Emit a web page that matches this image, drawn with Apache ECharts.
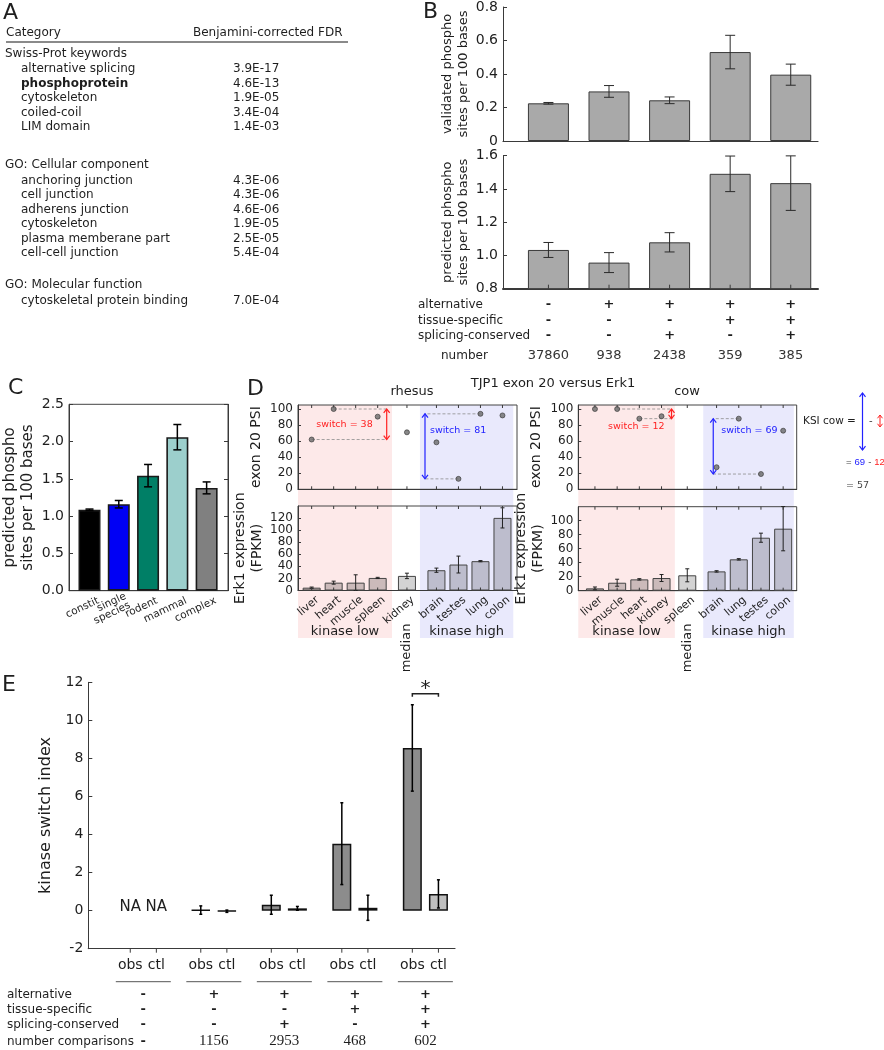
<!DOCTYPE html>
<html>
<head>
<meta charset="utf-8">
<script src="https://cdn.jsdelivr.net/npm/echarts@6/dist/echarts.min.js"></script>
<style>
html,body{margin:0;padding:0;background:#ffffff;}
#chart{width:884px;height:1050px;}
</style>
</head>
<body>
<div id="chart"></div>
<script>
// ===== Panel A : enrichment table =====
const aHeader = ['Category', 'Benjamini-corrected FDR'];
const aSections = ['Swiss-Prot keywords', 'GO: Cellular component', 'GO: Molecular function'];
const aTerms = [
  ['alternative splicing', 'phosphoprotein', 'cytoskeleton', 'coiled-coil', 'LIM domain'],
  ['anchoring junction', 'cell junction', 'adherens junction', 'cytoskeleton', 'plasma memberane part', 'cell-cell junction'],
  ['cytoskeletal protein binding']
];
const aFDR = [
  ['3.9E-17', '4.6E-13', '1.9E-05', '3.4E-04', '1.4E-03'],
  ['4.3E-06', '4.3E-06', '4.6E-06', '1.9E-05', '2.5E-05', '5.4E-04'],
  ['7.0E-04']
];
const aBoldTerm = 'phosphoprotein';

// ===== Panel B =====
const bRowLabels = ['alternative', 'tissue-specific', 'splicing-conserved'];
const bFlags = [
  ['-', '+', '+', '+', '+'],
  ['-', '-', '-', '+', '+'],
  ['-', '-', '+', '-', '+']
];
const bNumberLabel = 'number';
const bNumbers = ['37860', '938', '2438', '359', '385'];
const bValidated = [0.225, 0.296, 0.243, 0.531, 0.396];
const bValidatedErr = [0.005, 0.035, 0.020, 0.100, 0.063];
const bPredicted = [1.033, 0.957, 1.079, 1.491, 1.435];
const bPredictedErr = [0.045, 0.060, 0.058, 0.107, 0.164];

// ===== Panel C =====
const cCategories = ['constit', 'single\nspecies', 'rodent', 'mammal', 'complex'];
const cValues = [1.085, 1.16, 1.543, 2.059, 1.379];
const cErr = [0.01, 0.05, 0.15, 0.17, 0.08];

// ===== Panel D =====
const dTitle = 'TJP1 exon 20 versus Erk1';
const rhesusTissues = ['liver', 'heart', 'muscle', 'spleen', 'kidney', 'brain', 'testes', 'lung', 'colon'];
const rhesusPSI = [62, 100, null, 90.5, 71, 58.5, 13, 94, 92];
const rhesusErk = [4.7, 13, 13, 20.8, 24.2, 33.6, 43, 48.6, 120.3];
const rhesusErkErr = [1, 2.5, 13, 1, 4.5, 3.5, 14, 1, 16.7];
const cowTissues = ['liver', 'muscle', 'heart', 'kidney', 'spleen', 'brain', 'lung', 'testes', 'colon'];
const cowPSI = [100, 100, 88, 91, null, 27.5, 88, 19, 73];
const cowErk = [3.3, 11.4, 16.2, 18.1, 22, 27.6, 44.8, 75.7, 88.6];
const cowErkErr = [2, 5, 1, 5, 9.3, 1, 1, 6.5, 31.6];
const lowIdx = [0, 1, 2, 3];
const medianIdx = 4;
const highIdx = [5, 6, 7, 8];

// ===== Panel E =====
const eRowLabels = ['alternative', 'tissue-specific', 'splicing-conserved'];
const eFlags = [
  ['-', '+', '+', '+', '+'],
  ['-', '-', '-', '+', '+'],
  ['-', '-', '+', '-', '+']
];
const eNumberLabel = 'number comparisons';
const eNumbers = ['-', '1156', '2953', '468', '602'];
const eObs = [null, 0.03, 0.31, 3.52, 8.55];
const eObsErr = [null, 0.22, 0.50, 2.15, 2.27];
const eCtl = [null, -0.03, 0.12, 0.15, 0.88];
const eCtlErr = [null, 0.06, 0.10, 0.66, 0.74];

// ===================== drawing =====================
const chart = echarts.init(document.getElementById('chart'), null, {renderer: 'canvas'});
const FONT = 'DejaVu Sans';
const INK = '#1e1e1e';
const AX = '#3a3a3a';

function tissueX(i, g1, g2) { return i + (i >= 4 ? g1 : 0) + (i >= 5 ? g2 : 0); }
const rhX = rhesusTissues.map((t, i) => tissueX(i, 0.33, 0.34));
const cowX = cowTissues.map((t, i) => tissueX(i, 0.16, 0.32));
const eOff = 0.185;

function xAx(g, min, max, lw) {
  return {type: 'value', gridIndex: g, min: min, max: max,
    axisLine: {show: true, onZero: false, lineStyle: {color: AX, width: lw || 1}},
    axisTick: {show: false}, axisLabel: {show: false}, splitLine: {show: false}};
}
function yAx(g, min, max, interval, o) {
  o = o || {};
  const lab = {show: o.label !== false, fontSize: o.fs || 13, color: INK, fontFamily: FONT, margin: o.margin || 5};
  if (o.fmt) lab.formatter = o.fmt;
  if (o.hideMax) lab.showMaxLabel = false;
  return {type: 'value', gridIndex: g, min: min, max: max, interval: interval, position: o.position || 'left',
    axisLine: {show: true, onZero: false, lineStyle: {color: AX, width: 1}},
    axisTick: {show: true, inside: true, length: o.tick || 4, lineStyle: {color: AX}},
    axisLabel: lab, splitLine: {show: false},
    name: o.name || '', nameLocation: 'middle', nameGap: o.gap || 30, nameRotate: 90,
    nameTextStyle: {fontSize: o.nfs || 13, color: INK, fontFamily: FONT, lineHeight: o.lh || 16}};
}
function errSeries(xi, yi, data, cap, color, lw) {
  return {type: 'custom', xAxisIndex: xi, yAxisIndex: yi, z: 5, silent: true, clip: false,
    data: data, encode: {x: 0, y: [1, 2]},
    renderItem: function (params, api) {
      const x = api.value(0), lo = api.value(1), hi = api.value(2);
      const a = api.coord([x, lo]), b = api.coord([x, hi]);
      const st = {stroke: color, lineWidth: lw};
      return {type: 'group', children: [
        {type: 'line', shape: {x1: a[0], y1: a[1], x2: b[0], y2: b[1]}, style: st},
        {type: 'line', shape: {x1: a[0] - cap, y1: a[1], x2: a[0] + cap, y2: a[1]}, style: st},
        {type: 'line', shape: {x1: b[0] - cap, y1: b[1], x2: b[0] + cap, y2: b[1]}, style: st}
      ]};
    }};
}
function tickSeries(xi, yi, xs, yB, yT, bLen, tLen) {
  return {type: 'custom', xAxisIndex: xi, yAxisIndex: yi, z: 6, silent: true, clip: false,
    data: xs.map(x => [x, yB]), encode: {x: 0, y: 1},
    renderItem: function (params, api) {
      const x = api.value(0);
      const a = api.coord([x, yB]);
      const ch = [{type: 'line', shape: {x1: a[0], y1: a[1], x2: a[0], y2: a[1] - bLen}, style: {stroke: AX, lineWidth: 1}}];
      if (tLen) {
        const b = api.coord([x, yT]);
        ch.push({type: 'line', shape: {x1: b[0], y1: b[1], x2: b[0], y2: b[1] + tLen}, style: {stroke: AX, lineWidth: 1}});
      }
      return {type: 'group', children: ch};
    }};
}
const errData = (xs, vs, es) => vs.map((v, i) => v == null ? null : [xs[i], v - es[i], v + es[i]]).filter(d => d);
const idx5 = [0, 1, 2, 3, 4];

const cFill = ['#000000', '#0000f5', '#007f66', '#9ccfcc', '#808080'];
const dLowC = '#cbbaba', dMedC = '#d3d3d3', dHighC = '#bdbdcd';
const dBarColor = i => i === medianIdx ? dMedC : (lowIdx.indexOf(i) >= 0 ? dLowC : dHighC);

const eBarData = [];
const eErr = [];
const eTickX = [];
idx5.forEach(g => {
  eTickX.push(g - eOff, g + eOff);
  if (eObs[g] != null) {
    eBarData.push({value: [g - eOff, eObs[g]], itemStyle: {color: '#8c8c8c'}});
    eErr.push([g - eOff, eObs[g] - eObsErr[g], eObs[g] + eObsErr[g]]);
  }
  if (eCtl[g] != null) {
    eBarData.push({value: [g + eOff, eCtl[g]], itemStyle: {color: '#bfbfbf'}});
    eErr.push([g + eOff, eCtl[g] - eCtlErr[g], eCtl[g] + eCtlErr[g]]);
  }
});

const boxGrid = {show: true, borderColor: '#444', borderWidth: 1, backgroundColor: 'transparent'};
const option = {
  animation: false,
  backgroundColor: '#ffffff',
  textStyle: {fontFamily: FONT},
  grid: [
    {left: 503, top: 5, width: 315, height: 136},
    {left: 503, top: 155.7, width: 315, height: 133},
    Object.assign({left: 68, top: 404.3, width: 160, height: 186.4}, boxGrid),
    Object.assign({left: 298, top: 405, width: 219, height: 84.3}, boxGrid),
    Object.assign({left: 298, top: 506, width: 219, height: 84.5}, boxGrid),
    Object.assign({left: 578.3, top: 405, width: 218.4, height: 84.3}, boxGrid),
    Object.assign({left: 578.3, top: 506.7, width: 218.4, height: 84}, boxGrid),
    {left: 88.3, top: 682.3, width: 366.7, height: 266.4}
  ],
  xAxis: [
    xAx(0, -0.75, 4.45, 1.2),
    xAx(1, -0.75, 4.45, 2),
    xAx(2, -0.7, 4.73, 1),
    xAx(3, -0.62, 9.33, 1),
    xAx(4, -0.62, 9.33, 1),
    xAx(5, -0.75, 9.09, 1),
    xAx(6, -0.75, 9.09, 1),
    xAx(7, -0.78, 4.42, 1.2)
  ],
  yAxis: [
    yAx(0, 0, 0.8, 0.2, {name: 'validated phospho\nsites per 100 bases', gap: 29, fs: 14, nfs: 13, fmt: v => v === 0 ? '0' : v.toFixed(1)}),
    yAx(1, 0.8, 1.6, 0.2, {name: 'predicted phospho\nsites per 100 bases', gap: 29, fs: 14, nfs: 13, fmt: v => v.toFixed(1)}),
    yAx(2, 0, 2.5, 0.5, {name: 'predicted phospho\nsites per 100 bases', gap: 32, fs: 14, nfs: 15, lh: 18, fmt: v => v.toFixed(1)}),
    yAx(2, 0, 2.5, 0.5, {position: 'right', label: false}),
    yAx(3, 0, 105, 20, {name: 'exon 20 PSI', gap: 34, fs: 12, nfs: 14, hideMax: true, tick: 3}),
    yAx(4, 0, 140, 20, {name: 'Erk1 expression\n(FPKM)', gap: 30, fs: 12, nfs: 14, lh: 17, hideMax: true, tick: 3}),
    yAx(5, 0, 105, 20, {name: 'exon 20 PSI', gap: 34, fs: 12, nfs: 14, hideMax: true, tick: 3}),
    yAx(6, 0, 120, 20, {name: 'Erk1 expression\n(FPKM)', gap: 30, fs: 12, nfs: 14, lh: 17, hideMax: true, tick: 3}),
    yAx(7, -2, 12, 2, {name: 'kinase switch index', gap: 34, fs: 14, nfs: 16})
  ],
  series: [
    // B
    {type: 'bar', xAxisIndex: 0, yAxisIndex: 0, barWidth: 41, data: bValidated.map((v, i) => [i, v]),
      itemStyle: {color: '#a9a9a9', borderColor: '#3a3a3a', borderWidth: 1}},
    errSeries(0, 0, errData(idx5, bValidated, bValidatedErr), 5, '#2a2a2a', 1),
    {type: 'bar', xAxisIndex: 1, yAxisIndex: 1, barWidth: 41, data: bPredicted.map((v, i) => [i, v]),
      itemStyle: {color: '#a9a9a9', borderColor: '#3a3a3a', borderWidth: 1}},
    errSeries(1, 1, errData(idx5, bPredicted, bPredictedErr), 5, '#2a2a2a', 1),
    tickSeries(1, 1, idx5, 0.8, 1.6, 4, 0),
    // C
    {type: 'bar', xAxisIndex: 2, yAxisIndex: 2, barWidth: 22,
      data: cValues.map((v, i) => ({value: [i, v], itemStyle: {color: cFill[i]}})),
      itemStyle: {borderColor: '#1a1a1a', borderWidth: 1.6}},
    errSeries(2, 2, errData(idx5, cValues, cErr), 4, '#000000', 1.5),
    // D rhesus
    {type: 'scatter', xAxisIndex: 3, yAxisIndex: 4, symbolSize: 5, z: 7,
      data: rhesusPSI.map((v, i) => v == null ? null : [rhX[i], v]).filter(d => d),
      itemStyle: {color: '#6a6a6a', borderColor: '#333', borderWidth: 0.8}},
    tickSeries(3, 4, rhX, 0, 105, 3, 3),
    {type: 'bar', xAxisIndex: 4, yAxisIndex: 5, barWidth: 18,
      data: rhesusErk.map((v, i) => ({value: [rhX[i], v], itemStyle: {color: dBarColor(i)}})),
      itemStyle: {borderColor: '#444', borderWidth: 1}},
    errSeries(4, 5, errData(rhX, rhesusErk, rhesusErkErr), 2, '#222', 1),
    tickSeries(4, 5, rhX, 0, 140, 3, 3),
    // D cow
    {type: 'scatter', xAxisIndex: 5, yAxisIndex: 6, symbolSize: 5, z: 7,
      data: cowPSI.map((v, i) => v == null ? null : [cowX[i], v]).filter(d => d),
      itemStyle: {color: '#6a6a6a', borderColor: '#333', borderWidth: 0.8}},
    tickSeries(5, 6, cowX, 0, 105, 3, 3),
    {type: 'bar', xAxisIndex: 6, yAxisIndex: 7, barWidth: 18,
      data: cowErk.map((v, i) => ({value: [cowX[i], v], itemStyle: {color: dBarColor(i)}})),
      itemStyle: {borderColor: '#444', borderWidth: 1}},
    errSeries(6, 7, errData(cowX, cowErk, cowErkErr), 2, '#222', 1),
    tickSeries(6, 7, cowX, 0, 120, 3, 3),
    // E
    {type: 'bar', xAxisIndex: 7, yAxisIndex: 8, barWidth: 19, data: eBarData,
      itemStyle: {borderColor: '#111', borderWidth: 1.5}},
    errSeries(7, 8, eErr, 1.5, '#000', 1.5),
    tickSeries(7, 8, eTickX, -2, 12, -4, 0)
  ]
};
chart.setOption(option);

// ===================== text & annotations =====================
function buildGraphics() {
  const G = [];
  const T = (text, x, y, o) => {
    o = o || {};
    const st = {text: text, fontSize: o.fs || 12, fontFamily: o.ff || FONT, fontWeight: o.fw || 'normal',
      fill: o.c || INK, align: o.al || 'left', verticalAlign: o.va || 'middle'};
    if (o.lh) st.lineHeight = o.lh;
    G.push({type: 'text', x: x, y: y, rotation: o.rot || 0, z: 20, silent: true, style: st});
  };
  const L = (x1, y1, x2, y2, o) => {
    o = o || {};
    G.push({type: 'line', silent: true, z: o.z || 20, shape: {x1: x1, y1: y1, x2: x2, y2: y2},
      style: {stroke: o.c || INK, lineWidth: o.w || 1, lineDash: o.dash || null}});
  };
  const P = (pts, o) => {
    o = o || {};
    G.push({type: 'polyline', silent: true, z: 20, shape: {points: pts}, style: {stroke: o.c || INK, lineWidth: o.w || 1, fill: null}});
  };
  const R = (x, y, w, h, fill) => G.push({type: 'rect', silent: true, z: -10, shape: {x: x, y: y, width: w, height: h}, style: {fill: fill}});
  const vArrow = (x, y1, y2, h, c, w) => {
    L(x, y1, x, y2, {c: c, w: w});
    const s = y2 > y1 ? 1 : -1;
    P([[x - h, y1 + s * h * 1.3], [x, y1], [x + h, y1 + s * h * 1.3]], {c: c, w: w});
    P([[x - h, y2 - s * h * 1.3], [x, y2], [x + h, y2 - s * h * 1.3]], {c: c, w: w});
  };
  const px = (xi, yi, x, y) => chart.convertToPixel({xAxisIndex: xi, yAxisIndex: yi}, [x, y]);

  // ---- Panel letters
  T('A', 3, 13, {fs: 22});
  T('B', 423, 12, {fs: 22});
  T('C', 8, 388, {fs: 22});
  T('D', 247, 389, {fs: 22});
  T('E', 2, 685, {fs: 22});

  // ---- Panel A table
  T(aHeader[0], 6, 33, {fs: 12});
  T(aHeader[1], 193, 33, {fs: 12});
  L(6, 42, 348, 42, {c: '#8a8a8a', w: 2});
  const secY = [53.5, 165, 285];
  aSections.forEach((s, k) => {
    T(s, 5, secY[k], {fs: 12});
    aTerms[k].forEach((t, j) => {
      const y = secY[k] + 15.5 + j * 14.5;
      T(t, 21, y, {fs: 12, fw: t === aBoldTerm && k === 0 ? 'bold' : 'normal'});
      T(aFDR[k][j], 233, y, {fs: 12});
    });
  });

  // ---- Panel B table
  const bRowY = [305, 321, 336];
  bRowLabels.forEach((r, k) => {
    T(r, 418, bRowY[k], {fs: 12});
    bFlags[k].forEach((f, i) => {
      const p = px(1, 1, i, 0.8);
      T(f, p[0], bRowY[k], {fs: 13, al: 'center', fw: 'bold'});
    });
  });
  T(bNumberLabel, 441, 356, {fs: 12});
  bNumbers.forEach((n, i) => {
    const p = px(1, 1, i, 0.8);
    T(n, p[0], 356, {fs: 13, al: 'center', c: '#333'});
  });

  // ---- Panel C x labels
  cCategories.forEach((c, i) => {
    const p = px(2, 2, i, 0);
    T(c, p[0] + 9, p[1] + 9.5, {fs: 10.5, al: 'right', va: 'middle', rot: 0.44, lh: 10});
  });

  // ---- Panel D
  T(dTitle, 553, 384, {fs: 13, al: 'center'});
  const dPanels = [
    {name: 'rhesus', xs: rhX, tissues: rhesusTissues, psi: rhesusPSI, xi: 3, yi: 4, exi: 4, eyi: 5,
      lowEnd: 3.65, highStart: 4.92, highEnd: 9.16, redX: 3.41, blueX: 5.15,
      redTxt: {dx: -14, dy: 0, al: 'right', at: 'mid'}, blueTxt: {dx: 5, dy: 17, al: 'left', at: 'top'}},
    {name: 'cow', xs: cowX, tissues: cowTissues, psi: cowPSI, xi: 5, yi: 6, exi: 6, eyi: 7,
      lowEnd: 3.6, highStart: 4.88, highEnd: 8.96, redX: 3.45, blueX: 5.33,
      redTxt: {dx: -7, dy: 8, al: 'right', at: 'bottom'}, blueTxt: {dx: 8, dy: 12, al: 'left', at: 'top'}}
  ];
  const bandTop = 405, bandBottom = 638;
  const switchInfo = [];
  dPanels.forEach(d => {
    const xMin = chart.getModel().getComponent('xAxis', d.xi).get('min');
    const l0 = px(d.xi, d.yi, xMin, 0)[0];
    const l1 = px(d.xi, d.yi, d.lowEnd, 0)[0];
    const h0 = px(d.xi, d.yi, d.highStart, 0)[0];
    const h1 = px(d.xi, d.yi, d.highEnd, 0)[0];
    R(l0, bandTop, l1 - l0, bandBottom - bandTop, '#fde9e9');
    R(h0, bandTop, h1 - h0, bandBottom - bandTop, '#e9e9fc');
    T('kinase low', (l0 + l1) / 2, 632, {fs: 13, al: 'center'});
    T('kinase high', (h0 + h1) / 2, 632, {fs: 13, al: 'center'});
    // tissue labels
    d.tissues.forEach((t, i) => {
      const p = px(d.exi, d.eyi, d.xs[i], 0);
      T(t, p[0] + 6, p[1] + 8, {fs: 11, al: 'right', rot: 0.70});
    });
    const pm = px(d.exi, d.eyi, d.xs[medianIdx], 0);
    T('median', pm[0], 648, {fs: 13, al: 'center', rot: Math.PI / 2});
    // switch annotations
    const grp = (ids) => {
      let mx = null, mn = null;
      ids.forEach(i => {
        const v = d.psi[i];
        if (v == null) return;
        if (mx == null || v >= d.psi[mx]) mx = i;
        if (mn == null || v < d.psi[mn]) mn = i;
      });
      return {mx: mx, mn: mn, sw: Math.round(d.psi[mx] - d.psi[mn])};
    };
    const lo = grp(lowIdx), hi = grp(highIdx);
    switchInfo.push({lo: lo.sw, hi: hi.sw});
    [[lo, d.redX, '#ff2222', d.redTxt], [hi, d.blueX, '#2222ff', d.blueTxt]].forEach(([s, ax, col, tx]) => {
      const pTop = px(d.xi, d.yi, d.xs[s.mx], d.psi[s.mx]);
      const pBot = px(d.xi, d.yi, d.xs[s.mn], d.psi[s.mn]);
      const aTop = px(d.xi, d.yi, ax, d.psi[s.mx]);
      const aBot = px(d.xi, d.yi, ax, d.psi[s.mn]);
      L(pTop[0], pTop[1], aTop[0], aTop[1], {c: '#8c8c8c', w: 0.8, dash: [3, 2], z: 4});
      L(pBot[0], pBot[1], aBot[0], aBot[1], {c: '#8c8c8c', w: 0.8, dash: [3, 2], z: 4});
      vArrow(aTop[0], aTop[1], aBot[1], 3, col, 1.2);
      const ty = tx.at === 'mid' ? (aTop[1] + aBot[1]) / 2 + tx.dy : (tx.at === 'top' ? aTop[1] + tx.dy : aBot[1] + tx.dy);
      T('switch = ' + s.sw, aTop[0] + tx.dx, ty, {fs: 9.5, c: col, al: tx.al});
    });
  });
  T('rhesus', 412, 392, {fs: 13, al: 'center'});
  T('cow', 687, 392, {fs: 13, al: 'center'});

  // KSI cow annotation
  const cowSw = switchInfo[1];
  T('KSI cow =', 803, 421, {fs: 10.5});
  vArrow(862.5, 393, 450, 3, '#2222ff', 1.2);
  T('-', 869, 421, {fs: 10, c: '#444'});
  vArrow(880, 415, 427, 2.5, '#ff2222', 1);
  G.push({type: 'text', x: 846, y: 462, z: 20, silent: true, style: {
    text: '{k|=} {b|' + cowSw.hi + '} {k|-} {r|' + cowSw.lo + '}', fontSize: 9.5, fontFamily: FONT, verticalAlign: 'middle',
    rich: {k: {fill: '#444', fontSize: 9.5}, b: {fill: '#2222ff', fontSize: 9.5}, r: {fill: '#ff2222', fontSize: 9.5}}}});
  T('= ' + (cowSw.hi - cowSw.lo), 846, 486, {fs: 9.5, c: '#444'});

  // ---- Panel E labels
  idx5.forEach(g => {
    const po = px(7, 8, g - eOff, -2), pc = px(7, 8, g + eOff, -2);
    T('obs', po[0], 965, {fs: 14, al: 'center'});
    T('ctl', pc[0], 965, {fs: 14, al: 'center'});
    const s0 = px(7, 8, g - 0.39, -2), s1 = px(7, 8, g + 0.39, -2);
    L(s0[0], 981.7, s1[0], 981.7, {c: '#555', w: 1});
    if (eObs[g] == null) {
      const a = px(7, 8, g - eOff, 0), b = px(7, 8, g + eOff, 0);
      T('NA', a[0], a[1] - 4, {fs: 15, al: 'center'});
      T('NA', b[0], b[1] - 4, {fs: 15, al: 'center'});
    }
  });
  const eRowY = [994.5, 1010, 1024.5];
  eRowLabels.forEach((r, k) => {
    T(r, 7, eRowY[k], {fs: 12});
    eFlags[k].forEach((f, g) => {
      const p = px(7, 8, g, -2);
      T(f, p[0], eRowY[k], {fs: 13, al: 'center', fw: 'bold'});
    });
  });
  T(eNumberLabel, 7, 1041.5, {fs: 12});
  eNumbers.forEach((n, g) => {
    const p = px(7, 8, g, -2);
    T(n, p[0], 1041.5, {fs: n === '-' ? 13 : 15, al: 'center', ff: n === '-' ? FONT : 'Liberation Serif', fw: n === '-' ? 'bold' : 'normal'});
  });
  // significance bracket between obs and ctl of last group
  const lastG = 4;
  const b0 = px(7, 8, lastG - eOff, 11.4), b1 = px(7, 8, lastG + eOff, 11.4);
  P([[b0[0], b0[1] + 3], [b0[0], b0[1]], [b1[0], b1[1]], [b1[0], b1[1] + 3]], {c: '#222', w: 1.5});
  T('*', (b0[0] + b1[0]) / 2, b0[1] - 5, {fs: 20, al: 'center'});

  return G;
}
chart.setOption({graphic: {elements: buildGraphics()}});
</script>
</body>
</html>
